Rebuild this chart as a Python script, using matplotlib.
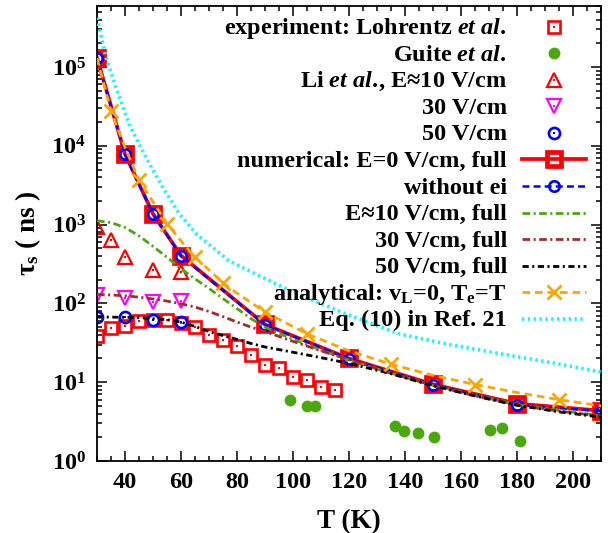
import matplotlib
matplotlib.use('Agg')
import matplotlib.pyplot as plt
from matplotlib.lines import Line2D
from matplotlib.ticker import LogLocator, LogFormatterMathtext, NullFormatter, MultipleLocator

plt.rcParams['font.family'] = ['Liberation Serif', 'DejaVu Serif']
plt.rcParams['font.weight'] = 'bold'
plt.rcParams['axes.labelweight'] = 'bold'
plt.rcParams['mathtext.fontset'] = 'custom'
plt.rcParams['mathtext.rm'] = 'Liberation Serif:bold'
plt.rcParams['mathtext.it'] = 'Liberation Serif:italic:bold'
plt.rcParams['mathtext.bf'] = 'Liberation Serif:bold'
plt.rcParams['mathtext.default'] = 'rm'
plt.rcParams['lines.scale_dashes'] = False

# experiment: Lohrentz et al.
T_lohrentz = [30, 35, 40, 45, 50, 55, 60, 65, 70, 75, 80, 85, 90, 95, 100, 105, 110, 115]
tau_lohrentz = [39, 49, 52, 59, 61, 61, 57, 50, 40, 34, 29, 22, 16.6, 15.2, 11.8, 10.7, 8.8, 7.9]

# experiment: Guite et al.
T_guite = [99, 105, 108, 136.5, 139.5, 144.5, 150.5, 170.5, 174.5, 181]
tau_guite = [6.0, 5.0, 5.0, 2.77, 2.42, 2.28, 2.0, 2.47, 2.59, 1.79]

# experiment: Li et al.
T_li10 = [30, 35, 40, 50, 60]
tau_li10 = [925, 640, 390, 262, 252]
T_li = [30, 40, 50, 60]
tau_li30 = [126, 118, 104, 108]
tau_li50 = [67, 67, 62, 58]

# numerical, E=0
T_num = [30, 40, 50, 60, 90, 120, 150, 180, 210]
tau_full = [1.31e5, 7.85e3, 1.37e3, 405, 54, 20, 9.4, 5.35, 4.35]
tau_noei = [1.30e5, 7.8e3, 1.36e3, 400, 53.5, 19.7, 9.3, 5.15, 4.3]

# numerical, with field
T_field = [30, 35, 40, 45, 50, 55, 60, 65, 70, 75, 80, 85, 90, 100, 110, 120, 135, 150, 165, 180, 195, 210]
tau_e10 = [1120, 1060, 920, 720, 530, 385, 275, 205, 155, 115, 86, 64, 50, 35, 25.5, 19, 13, 9.1, 6.8, 5.2, 4.4, 3.75]
tau_e30 = [130, 128, 125, 120, 114, 107, 99, 90, 79, 68, 58, 50, 44, 33, 25, 19.3, 13, 9.1, 6.7, 5.1, 4.3, 3.7]
tau_e50 = [67, 67, 66.5, 66, 64, 62, 58, 51, 44, 39, 35, 31, 28, 24, 20.5, 17.3, 12.8, 9.0, 6.7, 5.1, 4.2, 3.6]

# analytical
T_ana = [30, 35, 40, 45, 50, 55, 60, 65, 70, 75, 80, 90, 105, 120, 135, 150, 165, 180, 195, 210]
tau_ana = [1.3e5, 2.77e4, 9.5e3, 3.7e3, 1.95e3, 1.03e3, 620, 385, 265, 182, 135, 77.6, 41, 25,
           16.9, 12.2, 9.35, 7.4, 6.0, 5.0]
ana_marks = [1, 3, 5, 7, 9, 11, 12, 14, 16, 18]

# Eq. (10) in Ref. 21
T_eq10 = [30, 33, 37, 41.5, 47.5, 53.5, 59.5, 65.5, 77, 89, 99, 107, 120, 138, 156, 174, 192, 210]
tau_eq10 = [4.2e5, 1.4e5, 5.2e4, 1.86e4, 7.1e3, 2.95e3, 1.36e3, 760, 350, 215, 145, 110, 71, 41,
            30, 23, 17.8, 13.5]

labels = [
    r'experiment: Lohrentz $\mathit{et\ al.}$',
    r'Guite $\mathit{et\ al.}$',
    r'Li $\mathit{et\ al.}\!$, E≈10 V/cm',
    '30 V/cm',
    '50 V/cm',
    'numerical: E=0 V/cm, full',
    'without ei',
    'E≈10 V/cm, full',
    '30 V/cm, full',
    '50 V/cm, full',
    r'analytical: v$_\mathrm{L}$=0, T$_\mathrm{e}$=T',
    'Eq. (10) in Ref. 21',
]

RED = '#ff0000'
GREEN = '#4aa80c'
MAG = '#ff00ff'
BLUE = '#0000ff'
BROWN = '#a52a2a'
ORANGE = '#ffa500'
CYAN = '#00ffff'

W, H = 608, 533
fig = plt.figure(figsize=(W / 100, H / 100), dpi=100)
ax = fig.add_axes([97 / W, (H - 461) / H, 504 / W, 455.3 / H])

# style of each entry: (line kwargs or None, marker kwargs or None, centre dot?)
styles = [
    (None, dict(marker='s', ms=8, mfc='none', mec=RED, mew=1.9), True),
    (None, dict(marker='o', ms=8.5, mfc=GREEN, mec=GREEN, mew=0), False),
    (None, dict(marker='^', ms=9.5, mfc='none', mec=RED, mew=1.6), True),
    (None, dict(marker='v', ms=9.5, mfc='none', mec=MAG, mew=1.6), True),
    (None, dict(marker='o', ms=8, mfc='none', mec=BLUE, mew=1.9), True),
    (dict(color=RED, lw=2.7), dict(marker='s', ms=10, mfc='none', mec=RED, mew=3.4), False),
    (dict(color=BLUE, lw=1.8, dashes=(5, 3)), dict(marker='o', ms=7.5, mfc='none', mec=BLUE, mew=1.9), False),
    (dict(color=GREEN, lw=2.0, dashes=(5.5, 2.5, 1.5, 2.5)), None, False),
    (dict(color=BROWN, lw=2.0, dashes=(5.5, 2.5, 1.5, 2.5)), None, False),
    (dict(color='black', lw=2.0, dashes=(4.5, 2.5, 1.5, 2.5)), None, False),
    (dict(color=ORANGE, lw=2.0, dashes=(5.5, 3.5)), dict(marker='x', ms=9.5, mec=ORANGE, mew=2.0), False),
    (dict(color=CYAN, lw=2.6, dashes=(1.6, 2.6)), None, False),
]

series = [
    (T_lohrentz, tau_lohrentz), (T_guite, tau_guite), (T_li10, tau_li10),
    (T_li, tau_li30), (T_li, tau_li50), (T_num, tau_full), (T_num, tau_noei),
    (T_field, tau_e10), (T_field, tau_e30), (T_field, tau_e50),
    (T_ana, tau_ana), (T_eq10, tau_eq10),
]

for i, ((x, y), (lk, mk, dot)) in enumerate(zip(series, styles)):
    if lk is not None:
        kw = dict(lk)
        if mk is not None:
            kw.update(mk)
            if i == 10:
                kw['markevery'] = ana_marks
        ax.plot(x, y, zorder=2 + i * 0.1, **kw)
    else:
        ax.plot(x, y, ls='none', zorder=2 + i * 0.1, **mk)
        if dot:
            ax.plot(x, y, ls='none', marker='s', ms=1.8, mfc=mk['mec'], mec=mk['mec'],
                    mew=0, zorder=2 + i * 0.1)

ax.set_yscale('log')
ax.set_xlim(30, 210)
ax.set_ylim(1, 6e5)
ax.xaxis.set_major_locator(MultipleLocator(20))
ax.xaxis.set_minor_locator(MultipleLocator(5))
ax.set_xticks(range(40, 201, 20))
ax.yaxis.set_major_locator(LogLocator(base=10, numticks=10))
ax.yaxis.set_minor_locator(LogLocator(base=10, subs=range(2, 10), numticks=20))
ax.yaxis.set_major_formatter(LogFormatterMathtext())
ax.yaxis.set_minor_formatter(NullFormatter())
ax.tick_params(which='both', direction='in', top=True, right=True, width=1.1, labelsize=17.5)
ax.tick_params(which='major', length=7, pad=8)
ax.tick_params(which='minor', length=3.5)
for s in ax.spines.values():
    s.set_linewidth(1.3)

ax.set_xlabel('T (K)', fontsize=19.5, va='center')
ax.xaxis.set_label_coords(0.5, (461 - 521.7) / 455.3)
ax.set_ylabel('τ$_\\mathrm{s}$ ( ns )', fontsize=19.5, va='center')
ax.yaxis.set_label_coords((28 - 97) / 504, 0.5)

# key, drawn row by row at the top right
for row, (label, (lk, mk, dot)) in enumerate(zip(labels, styles)):
    yp = 26.7 + row * 26.55
    yf = 1 - yp / H
    fig.text(507 / W, 1 - (yp + 7.5) / H, label, ha='right', va='baseline', fontsize=17.5)
    if lk is not None:
        fig.add_artist(Line2D([522 / W, 586 / W], [yf, yf], transform=fig.transFigure, **lk))
    if mk is not None:
        fig.add_artist(Line2D([554 / W], [yf], transform=fig.transFigure, ls='none', **mk))
        if dot:
            fig.add_artist(Line2D([554 / W], [yf], transform=fig.transFigure, ls='none',
                                  marker='s', ms=1.8, mfc=mk['mec'], mec=mk['mec'], mew=0))

fig.savefig('out.png', dpi=100)
